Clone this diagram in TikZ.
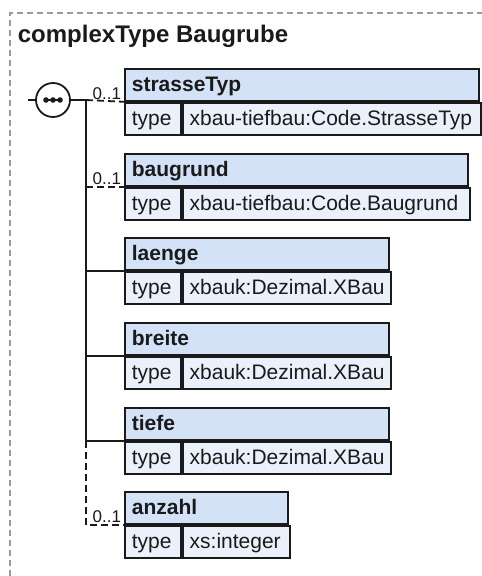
\documentclass[tikz,border=0pt]{standalone}
\usepackage{fontspec}
\setmainfont{Liberation Sans}
\usepackage{tikz}
\usetikzlibrary{positioning}
\definecolor{ink}{HTML}{1A1A1A}
\definecolor{headBlue}{HTML}{D4E2F7}
\definecolor{typeBlue}{HTML}{EAF1FB}
\definecolor{frameGray}{HTML}{9A9A9A}

\begin{document}
\begin{tikzpicture}[x=1pt,y=-1pt,line width=1.8pt,color=ink,
  cell/.style={draw=ink,anchor=north west,minimum height=32pt,inner xsep=7pt,inner ysep=0pt,align=left,text height=15pt,text depth=1.5pt},
  head/.style={cell,fill=headBlue,font=\fontsize{21}{24}\selectfont\bfseries},
  tlabel/.style={cell,fill=typeBlue,font=\fontsize{21}{24}\selectfont,text width=42pt},
  tval/.style={cell,fill=typeBlue,font=\fontsize{21}{24}\selectfont},
  mult/.style={anchor=base east,inner sep=0pt,font=\fontsize{17}{20}\selectfont},
  opt/.style={dash pattern=on 7pt off 4pt},
  seqsym/.style={circle,draw=ink,fill=white,minimum size=34pt,inner sep=0pt}]
\useasboundingbox (0,0) rectangle (482,576);
% outer frame and title
\draw[frameGray,line width=1.2pt,dash pattern=on 6pt off 4pt] (10,576) -- (10,13) -- (482,13);
\node[font=\fontsize{24}{28}\selectfont\bfseries,anchor=base west,inner sep=0pt] (title) at (17,42) {complexType Baugrube};
% elements
\node[head,text width=340pt] (hStr) at (124,68) {strasseTyp};
\node[tlabel] (tStr) at (hStr.south west) {type};
\node[tval,text width=284pt] (vStr) at (tStr.north east) {xbau-tiefbau:Code.StrasseTyp};
\node[head,text width=329pt] (hBau) at (124,153) {baugrund};
\node[tlabel] (tBau) at (hBau.south west) {type};
\node[tval,text width=273pt] (vBau) at (tBau.north east) {xbau-tiefbau:Code.Baugrund};
\node[head,text width=250pt] (hLae) at (124,237) {laenge};
\node[tlabel] (tLae) at (hLae.south west) {type};
\node[tval,text width=194pt] (vLae) at (tLae.north east) {xbauk:Dezimal.XBau};
\node[head,text width=250pt] (hBre) at (124,322) {breite};
\node[tlabel] (tBre) at (hBre.south west) {type};
\node[tval,text width=194pt] (vBre) at (tBre.north east) {xbauk:Dezimal.XBau};
\node[head,text width=250pt] (hTie) at (124,407) {tiefe};
\node[tlabel] (tTie) at (hTie.south west) {type};
\node[tval,text width=194pt] (vTie) at (tTie.north east) {xbauk:Dezimal.XBau};
\node[head,text width=149pt] (hAnz) at (124,491) {anzahl};
\node[tlabel] (tAnz) at (hAnz.south west) {type};
\node[tval,text width=93pt] (vAnz) at (tAnz.north east) {xs:integer};
% sequence symbol and connectors
\coordinate (in) at (28,100);
\coordinate (fork) at (86,100);
\draw (in) -- (fork);
\node[seqsym] (seq) at (53,100) {};
\draw ([xshift=-8pt]seq.center) -- ([xshift=8pt]seq.center);
\foreach \dx in {-7,0,7}
  \fill ([xshift=\dx pt]seq.center) circle (2.8pt);
\draw (fork) -- (fork |- hTie.south west);
\draw[opt] (fork) -- (hStr.south west);
\draw[opt] (fork |- hBau.south west) -- (hBau.south west);
\draw (fork |- hLae.south west) -- (hLae.south west);
\draw (fork |- hBre.south west) -- (hBre.south west);
\draw (fork |- hTie.south west) -- (hTie.south west);
\draw[opt] (fork |- hTie.south west) -- (fork |- hAnz.south west) -- (hAnz.south west);
\node[mult] (mStr) at ([xshift=-2pt,yshift=2pt]hStr.south west) {0..1};
\node[mult] (mBau) at ([xshift=-2pt,yshift=2pt]hBau.south west) {0..1};
\node[mult] (mAnz) at ([xshift=-2pt,yshift=2pt]hAnz.south west) {0..1};
\end{tikzpicture}
\end{document}
